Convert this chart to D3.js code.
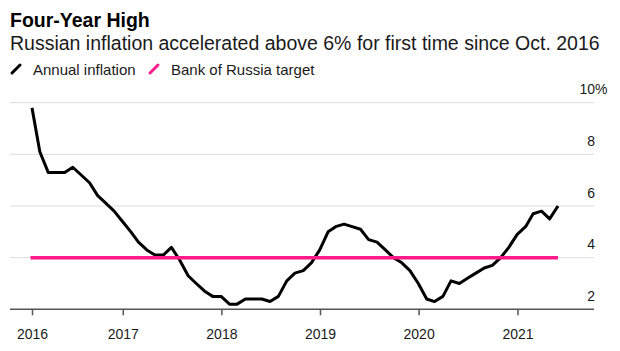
<!DOCTYPE html>
<html lang="en">
<head>
  <meta charset="UTF-8">
  <title>Four-Year High</title>
  <style>
    body { margin: 0; background: #fff; }
    text { font-family: 'Liberation Sans', Arial, Helvetica, sans-serif; }
  </style>
</head>
<body>
  <svg id="svg" width="620" height="351"></svg>

  <script src="https://d3js.org/d3.v7.min.js"></script>
  <script>
    // monthly annual inflation, Jan 2016 .. May 2021 (%)
    const inflation = [
      9.8, 8.1, 7.3, 7.3, 7.3, 7.5, 7.2, 6.9, 6.4, 6.1, 5.8, 5.4, // 2016
      5.0, 4.6, 4.3, 4.1, 4.1, 4.4, 3.9, 3.3, 3.0, 2.7, 2.5, 2.5, // 2017
      2.2, 2.2, 2.4, 2.4, 2.4, 2.3, 2.5, 3.1, 3.4, 3.5, 3.8, 4.3, // 2018
      5.0, 5.2, 5.3, 5.2, 5.1, 4.7, 4.6, 4.3, 4.0, 3.8, 3.5, 3.0, // 2019
      2.4, 2.3, 2.5, 3.1, 3.0, 3.2, 3.4, 3.6, 3.7, 4.0, 4.4, 4.9, // 2020
      5.2, 5.7, 5.8, 5.5, 6.0                                     // 2021
    ]
    const target = 4
    const years = [2016, 2017, 2018, 2019, 2020, 2021]
    const yTicks = [2, 4, 6, 8, 10]
    const seriesNames = ['Annual inflation', 'Bank of Russia target']
    const seriesColors = ['#000000', '#ff1a8c']

    // points sit at the end of each month
    const monthEnd = i => d3.timeDay.offset(new Date(2016, i + 1, 1), -1)
    const data = inflation.map((v, i) => ({ date: monthEnd(i), value: v }))

    const first = data[0].date
    const last = data[data.length - 1].date

    // ------ SCALES ------------------------
    const xscale = d3.scaleTime()
      .domain([first, last])
      .range([32, 558])

    const yscale = d3.scaleLinear()
      .domain([2, 10])
      .range([309.3, 102.7])

    const gridLeft = 10
    const gridRight = 594

    const svg = d3.select('#svg')

    // ------ TITLES ------------------------
    svg.append('text')
      .attr('x', 10)
      .attr('y', 27)
      .style('font-size', '19.5px')
      .style('font-weight', 'bold')
      .attr('fill', '#000')
      .text('Four-Year High')

    svg.append('text')
      .attr('x', 10)
      .attr('y', 50)
      .style('font-size', '19.5px')
      .attr('fill', '#1a1a1a')
      .text('Russian inflation accelerated above 6% for first time since Oct. 2016')

    // ------ LEGEND ------------------------
    const legendX = [12, 150]
    const legend = svg.append('g')
      .selectAll('g')
      .data(seriesNames)
      .enter()
      .append('g')
      .attr('transform', (d, i) => `translate(${legendX[i]}, 69)`)

    legend.append('line')
      .attr('x1', 0).attr('y1', 4)
      .attr('x2', 8).attr('y2', -4)
      .attr('stroke', (d, i) => seriesColors[i])
      .attr('stroke-width', 3)
      .attr('stroke-linecap', 'round')

    legend.append('text')
      .attr('x', 21)
      .attr('y', 5.5)
      .style('font-size', '15px')
      .attr('fill', '#1a1a1a')
      .text(d => d)

    // ------ GRID + Y LABELS ------------------------
    svg.append('g')
      .selectAll('line')
      .data(yTicks.filter(d => d !== 2))
      .enter()
      .append('line')
      .attr('x1', gridLeft)
      .attr('x2', gridRight)
      .attr('y1', d => yscale(d))
      .attr('y2', d => yscale(d))
      .attr('stroke', '#dedede')
      .attr('stroke-width', 1)

    svg.append('g')
      .selectAll('text')
      .data(yTicks)
      .enter()
      .append('text')
      .attr('x', gridRight + 1)
      .attr('y', d => yscale(d) - 8.5)
      .attr('text-anchor', 'end')
      .style('font-size', '14px')
      .attr('fill', '#1a1a1a')
      .text(d => d)

    // percent sign hangs past the right edge of the top label
    svg.append('text')
      .attr('x', gridRight + 1)
      .attr('y', yscale(d3.max(yTicks)) - 8.5)
      .style('font-size', '14px')
      .attr('fill', '#1a1a1a')
      .text('%')

    // ------ X AXIS ------------------------
    const tickDates = years.map((y, i) => i === 0 ? first : new Date(y, 0, 1))

    svg.append('line')
      .attr('x1', gridLeft)
      .attr('x2', gridRight)
      .attr('y1', yscale(2))
      .attr('y2', yscale(2))
      .attr('stroke', '#555')
      .attr('stroke-width', 1.5)

    const bottomAxis = d3.axisBottom(xscale)
      .tickValues(tickDates)
      .tickFormat((d, i) => years[i])
      .tickSize(6)
      .tickPadding(14)

    const xAxis = svg.append('g')
      .attr('transform', `translate(0, ${yscale(2)})`)
      .call(bottomAxis)

    xAxis.select('.domain').remove()
    xAxis.selectAll('.tick line')
      .attr('stroke', '#555')
      .attr('stroke-width', 1.5)
    xAxis.selectAll('.tick text')
      .style('font-family', "'Liberation Sans', Arial, Helvetica, sans-serif")
      .style('font-size', '14px')
      .attr('fill', '#1a1a1a')

    // ------ INFLATION LINE ------------------------
    const line = d3.line()
      .x(d => xscale(d.date))
      .y(d => yscale(d.value))

    svg.append('path')
      .datum(data)
      .attr('d', line)
      .attr('fill', 'none')
      .attr('stroke', seriesColors[0])
      .attr('stroke-width', 3)
      .attr('stroke-linejoin', 'round')

    // ------ TARGET LINE (drawn on top) ------------------------
    svg.append('line')
      .attr('x1', xscale(first) - 1.5)
      .attr('x2', xscale(last))
      .attr('y1', yscale(target))
      .attr('y2', yscale(target))
      .attr('stroke', seriesColors[1])
      .attr('stroke-width', 3.5)
  </script>
</body>
</html>
